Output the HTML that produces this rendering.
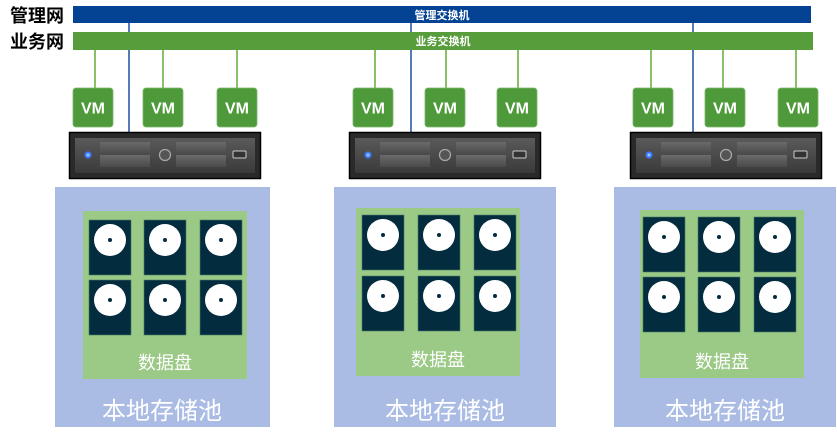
<!DOCTYPE html>
<html><head><meta charset="utf-8"><style>
html,body{margin:0;padding:0;background:#fff;}
svg{display:block;}
text{font-family:"Liberation Sans","Noto Sans CJK SC",sans-serif;}
</style></head><body>
<svg width="837" height="435" viewBox="0 0 837 435" xmlns="http://www.w3.org/2000/svg">
<defs>
<linearGradient id="panel" x1="0" y1="0" x2="0" y2="1"><stop offset="0" stop-color="#5a5a5a"/><stop offset="1" stop-color="#3a3a3a"/></linearGradient>
<linearGradient id="bay" x1="0" y1="0" x2="0" y2="1"><stop offset="0" stop-color="#6a6a6a"/><stop offset="1" stop-color="#4a4a4a"/></linearGradient>
<g id="server">
<rect x="0.5" y="132.5" width="191" height="46" fill="#2a2a2a" stroke="#000" stroke-width="1.5"/>
<rect x="6" y="138" width="180" height="35" fill="url(#panel)"/>
<circle cx="19" cy="155" r="3.5" fill="#3a7cff"/>
<circle cx="19" cy="155" r="1.5" fill="#9cc4ff"/>
<rect x="31" y="142" width="50" height="12" fill="url(#bay)"/>
<rect x="31" y="155" width="50" height="12" fill="url(#bay)"/>
<circle cx="96" cy="155" r="5.5" fill="#555" stroke="#aaa" stroke-width="1.2"/>
<rect x="107" y="142" width="50" height="12" fill="url(#bay)"/>
<rect x="107" y="155" width="50" height="12" fill="url(#bay)"/>
<rect x="164" y="151" width="13" height="7" rx="1" fill="#333" stroke="#ccc" stroke-width="1"/>
</g>
<g id="vm">
<rect x="0" y="0" width="40" height="39" rx="3" fill="#4e9a3a" stroke="#7ab86a" stroke-width="0.8"/>
<text x="20" y="25.5" font-size="16" font-weight="900" fill="#fff" text-anchor="middle">VM</text>
</g>
<g id="disk">
<rect x="0" y="0" width="42" height="55" fill="#032c3e" stroke="#4a7a6a" stroke-width="0.6"/>
<circle cx="21" cy="20" r="16" fill="#fff"/>
<circle cx="21" cy="20" r="2" fill="#032c3e"/>
</g>
</defs>

<text x="10" y="22" font-size="18" font-weight="bold" fill="#000">管理网</text>
<text x="10" y="48" font-size="18" font-weight="bold" fill="#000">业务网</text>

<g stroke="#8bc06b" stroke-width="2">
<line x1="95" y1="50" x2="95" y2="88"/><line x1="163" y1="50" x2="163" y2="88"/><line x1="237" y1="50" x2="237" y2="88"/>
<line x1="375" y1="50" x2="375" y2="88"/><line x1="446" y1="50" x2="446" y2="88"/><line x1="518" y1="50" x2="518" y2="88"/>
<line x1="651" y1="50" x2="651" y2="88"/><line x1="723" y1="50" x2="723" y2="88"/><line x1="796" y1="50" x2="796" y2="88"/>
</g>
<g stroke="#1d4fa0" stroke-width="1.5">
<line x1="129" y1="22" x2="129" y2="133"/>
<line x1="411" y1="22" x2="411" y2="133"/>
<line x1="693" y1="22" x2="693" y2="133"/>
</g>

<rect x="73" y="6" width="738" height="17" fill="#044393"/>
<text x="442" y="19" font-size="11" font-weight="bold" fill="#fff" text-anchor="middle">管理交换机</text>
<rect x="73" y="32" width="740" height="18" fill="#579d3c"/>
<text x="443" y="45" font-size="11" font-weight="bold" fill="#fff" text-anchor="middle">业务交换机</text>

<use href="#vm" x="73" y="88"/><use href="#vm" x="143" y="88"/><use href="#vm" x="217" y="88"/>
<use href="#vm" x="353" y="88"/><use href="#vm" x="425" y="88"/><use href="#vm" x="497" y="88"/>
<use href="#vm" x="633" y="88"/><use href="#vm" x="705" y="88"/><use href="#vm" x="778" y="88"/>

<use href="#server" x="69" y="0"/>
<use href="#server" x="349" y="0"/>
<use href="#server" x="630" y="0"/>

<rect x="55" y="187" width="215" height="240" fill="#aabce4"/>
<rect x="83" y="211" width="164" height="168" fill="#9bc986"/>
<use href="#disk" x="89" y="220"/><use href="#disk" x="144" y="220"/><use href="#disk" x="200" y="220"/>
<use href="#disk" x="89" y="280"/><use href="#disk" x="144" y="280"/><use href="#disk" x="200" y="280"/>
<text x="165" y="369" font-size="18" fill="#fff" text-anchor="middle">数据盘</text>
<text x="162" y="419" font-size="24" fill="#fff" text-anchor="middle">本地存储池</text>

<rect x="334" y="187" width="222" height="240" fill="#aabce4"/>
<rect x="356" y="208" width="164" height="168" fill="#9bc986"/>
<use href="#disk" x="362" y="215"/><use href="#disk" x="418" y="215"/><use href="#disk" x="474" y="215"/>
<use href="#disk" x="362" y="276"/><use href="#disk" x="418" y="276"/><use href="#disk" x="474" y="276"/>
<text x="438" y="366" font-size="18" fill="#fff" text-anchor="middle">数据盘</text>
<text x="445" y="419" font-size="24" fill="#fff" text-anchor="middle">本地存储池</text>

<rect x="614" y="187" width="222" height="240" fill="#aabce4"/>
<rect x="640" y="210" width="164" height="168" fill="#9bc986"/>
<use href="#disk" x="643" y="217"/><use href="#disk" x="698" y="217"/><use href="#disk" x="754" y="217"/>
<use href="#disk" x="643" y="277"/><use href="#disk" x="698" y="277"/><use href="#disk" x="754" y="277"/>
<text x="722" y="368" font-size="18" fill="#fff" text-anchor="middle">数据盘</text>
<text x="725" y="419" font-size="24" fill="#fff" text-anchor="middle">本地存储池</text>
</svg>
</body></html>
